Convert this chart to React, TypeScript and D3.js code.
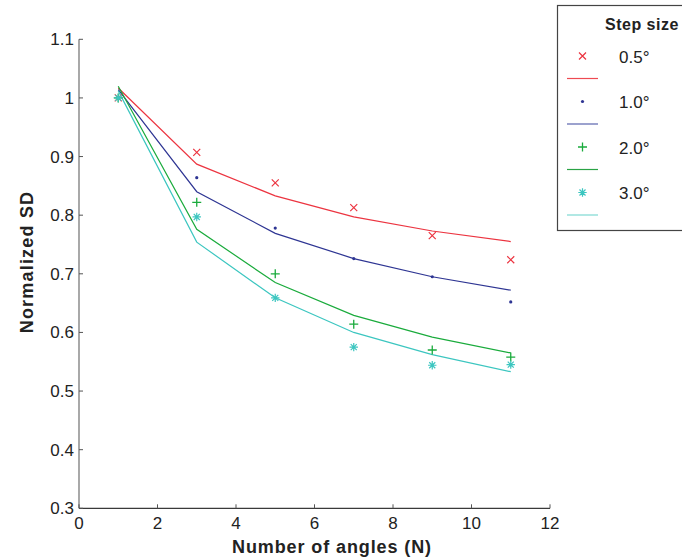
import React from "react";
import * as d3 from "d3";

const angles = [1, 3, 5, 7, 9, 11];
const stepLabels = ["0.5°", "1.0°", "2.0°", "3.0°"];
const measured05 = [1.0, 0.907, 0.855, 0.813, 0.765, 0.724];
const measured10 = [1.0, 0.864, 0.778, 0.726, 0.695, 0.652];
const measured20 = [1.0, 0.822, 0.7, 0.614, 0.57, 0.558];
const measured30 = [1.0, 0.797, 0.659, 0.575, 0.544, 0.545];
const model05 = [1.017, 0.887, 0.833, 0.797, 0.773, 0.755];
const model10 = [1.014, 0.84, 0.769, 0.726, 0.695, 0.672];
const model20 = [1.02, 0.776, 0.685, 0.629, 0.592, 0.565];
const model30 = [1.012, 0.754, 0.659, 0.6, 0.562, 0.533];
const xTicks = [0, 2, 4, 6, 8, 10, 12];
const yTicks = [0.3, 0.4, 0.5, 0.6, 0.7, 0.8, 0.9, 1.0, 1.1];
const yTickLabels = ["0.3", "0.4", "0.5", "0.6", "0.7", "0.8", "0.9", "1", "1.1"];

const colors = ["#ec3440", "#2e3593", "#1aab3c", "#3cc6c0"];
const legendLineColors = ["#ee4a52", "#5a64ad", "#2aa345", "#7ed9d3"];
const markerTypes = ["x", "dot", "plus", "star"];

const measured = [measured05, measured10, measured20, measured30];
const models = [model05, model10, model20, model30];

const FONT = "'Liberation Sans', Arial, Helvetica, sans-serif";

function Marker({ type, x, y, color }: { type: string; x: number; y: number; color: string }) {
  if (type === "x") {
    const s = 3.5;
    return (
      <path d={`M${x - s},${y - s}L${x + s},${y + s}M${x - s},${y + s}L${x + s},${y - s}`} stroke={color} strokeWidth={1.2} />
    );
  }
  if (type === "dot") {
    return <circle cx={x} cy={y} r={1.6} fill={color} />;
  }
  if (type === "plus") {
    const s = 4.5;
    return <path d={`M${x - s},${y}L${x + s},${y}M${x},${y - s}L${x},${y + s}`} stroke={color} strokeWidth={1.3} />;
  }
  const s = 4.2;
  const d45 = s * 0.72;
  return (
    <path
      d={`M${x - s},${y}L${x + s},${y}M${x},${y - s}L${x},${y + s}M${x - d45},${y - d45}L${x + d45},${y + d45}M${x - d45},${y + d45}L${x + d45},${y - d45}`}
      stroke={color}
      strokeWidth={1.2}
    />
  );
}

export default function App() {
  const width = 682;
  const height = 560;
  const x = d3.scaleLinear().domain([0, 12]).range([79, 550]);
  const y = d3.scaleLinear().domain([0.3, 1.1]).range([508.3, 39.3]);
  const line = d3
    .line<number>()
    .x((_, i) => x(angles[i]))
    .y((d) => y(d));

  return (
    <svg width={width} height={height} style={{ position: "absolute", left: 0, top: 0, background: "#fff" }} fontFamily={FONT}>
      <rect width={width} height={height} fill="#fff" />
      {/* axes */}
      <line x1={x(0)} x2={x(0)} y1={y(1.1)} y2={y(0.3)} stroke="#7a7a7a" strokeWidth={1.3} />
      <line x1={x(0)} x2={x(12)} y1={y(0.3)} y2={y(0.3)} stroke="#3a3a3a" strokeWidth={1.3} />
      {yTicks.map((t, i) => (
        <g key={"y" + i}>
          <line x1={x(0)} x2={x(0) + 4} y1={y(t)} y2={y(t)} stroke="#555" strokeWidth={1} />
          <text x={x(0) - 5} y={y(t)} dy="0.35em" textAnchor="end" fontSize={17} fill="#222">
            {yTickLabels[i]}
          </text>
        </g>
      ))}
      {xTicks.map((t, i) => (
        <g key={"x" + i}>
          <line x1={x(t)} x2={x(t)} y1={y(0.3)} y2={y(0.3) - 4} stroke="#555" strokeWidth={1} />
          <text x={x(t)} y={y(0.3) + 21} textAnchor="middle" fontSize={17} fill="#222">
            {t}
          </text>
        </g>
      ))}
      <text x={332} y={553} textAnchor="middle" fontSize={18} fontWeight="bold" letterSpacing={0.9} fill="#222">
        Number of angles (N)
      </text>
      <text transform="translate(33,262) rotate(-90)" textAnchor="middle" fontSize={18} fontWeight="bold" letterSpacing={1.2} fill="#222">
        Normalized SD
      </text>
      {/* model lines */}
      {models.map((m, k) => (
        <path key={"l" + k} d={line(m) || ""} fill="none" stroke={colors[k]} strokeWidth={1.2} />
      ))}
      {/* measured markers */}
      {measured.map((m, k) =>
        m.map((v, i) => <Marker key={`m${k}-${i}`} type={markerTypes[k]} x={x(angles[i])} y={y(v)} color={colors[k]} />)
      )}
      {/* legend */}
      <rect x={557.5} y={5.5} width={140} height={225} fill="#fff" stroke="#444" strokeWidth={1.2} />
      <text x={605} y={30} fontSize={16} fontWeight="bold" letterSpacing={0.5} fill="#222">
        Step size
      </text>
      {stepLabels.map((lab, k) => {
        const yy = 56 + k * 45.5;
        return (
          <g key={"lg" + k}>
            <Marker type={markerTypes[k]} x={582.5} y={yy} color={colors[k]} />
            <line x1={567} x2={598} y1={yy + 22.5} y2={yy + 22.5} stroke={legendLineColors[k]} strokeWidth={1.2} />
            <text x={619} y={yy + 1} dy="0.35em" fontSize={17} fill="#222">
              {lab}
            </text>
          </g>
        );
      })}
    </svg>
  );
}
